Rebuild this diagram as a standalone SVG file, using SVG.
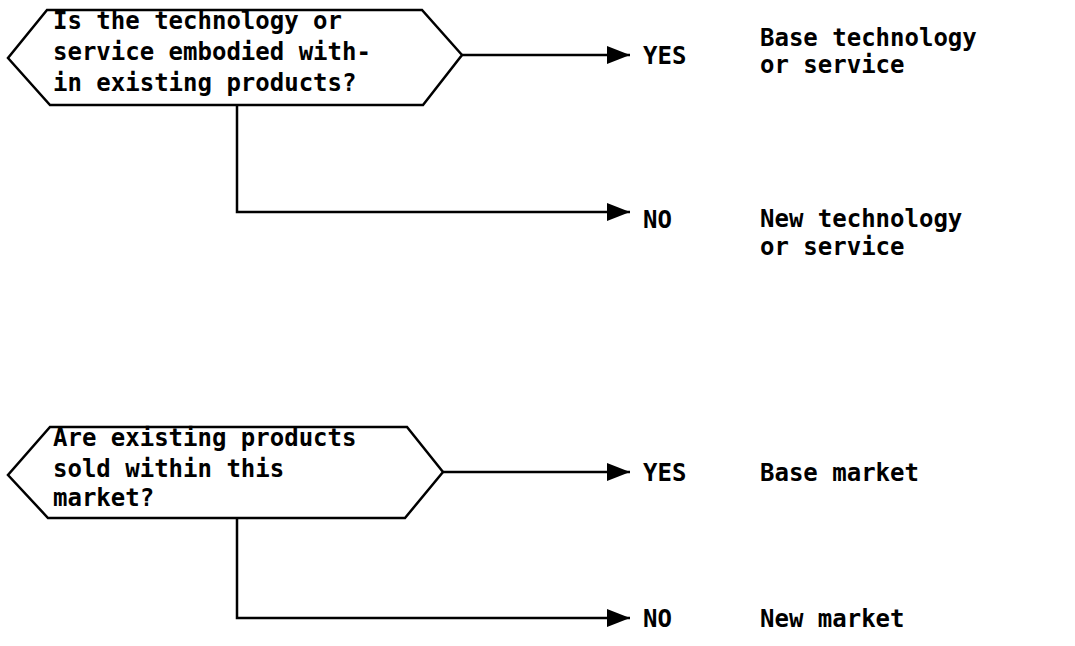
<svg xmlns="http://www.w3.org/2000/svg" width="1075" height="646" viewBox="0 0 1075 646">
  <style>
    .shape { fill: #fff; stroke: #000; stroke-width: 2.5; stroke-linejoin: miter; }
    .wire { fill: none; stroke: #000; stroke-width: 2.5; }
    text { font-family: "DejaVu Sans Mono", "Liberation Mono", monospace; font-size: 24px; font-weight: bold; fill: #000; }
  </style>
  <defs>
    <marker id="arrow" markerUnits="userSpaceOnUse" markerWidth="26" markerHeight="20" refX="24" refY="10" orient="auto">
      <path d="M1,1 L24,10 L1,19 Z" fill="#000"/>
    </marker>
  </defs>
  <rect width="1075" height="646" fill="#fff"/>

  <!-- connectors -->
  <g id="connectors">
    <path class="wire" d="M462,55 H630" marker-end="url(#arrow)"/>
    <path class="wire" d="M237,105 V212 H630" marker-end="url(#arrow)"/>
    <path class="wire" d="M443,472 H630" marker-end="url(#arrow)"/>
    <path class="wire" d="M237,518 V618 H630" marker-end="url(#arrow)"/>
  </g>

  <!-- question 1: technology -->
  <g id="q-technology">
    <polygon class="shape" points="47,10 422,10 462,55 423,105 50,105 8,58"/>
    <text x="53" y="29">Is the technology or</text>
    <text x="53" y="60">service embodied with-</text>
    <text x="53" y="91">in existing products?</text>
  </g>
  <g id="tech-yes">
    <text x="643" y="64">YES</text>
    <text x="760" y="46">Base technology</text>
    <text x="760" y="73">or service</text>
  </g>
  <g id="tech-no">
    <text x="643" y="228">NO</text>
    <text x="760" y="227">New technology</text>
    <text x="760" y="255">or service</text>
  </g>

  <!-- question 2: market -->
  <g id="q-market">
    <polygon class="shape" points="50,427 407,427 443,472 405,518 48,518 8,475"/>
    <text x="53" y="446">Are existing products</text>
    <text x="53" y="477">sold within this</text>
    <text x="53" y="506">market?</text>
  </g>
  <g id="market-yes">
    <text x="643" y="481">YES</text>
    <text x="760" y="481">Base market</text>
  </g>
  <g id="market-no">
    <text x="643" y="627">NO</text>
    <text x="760" y="627">New market</text>
  </g>
</svg>
